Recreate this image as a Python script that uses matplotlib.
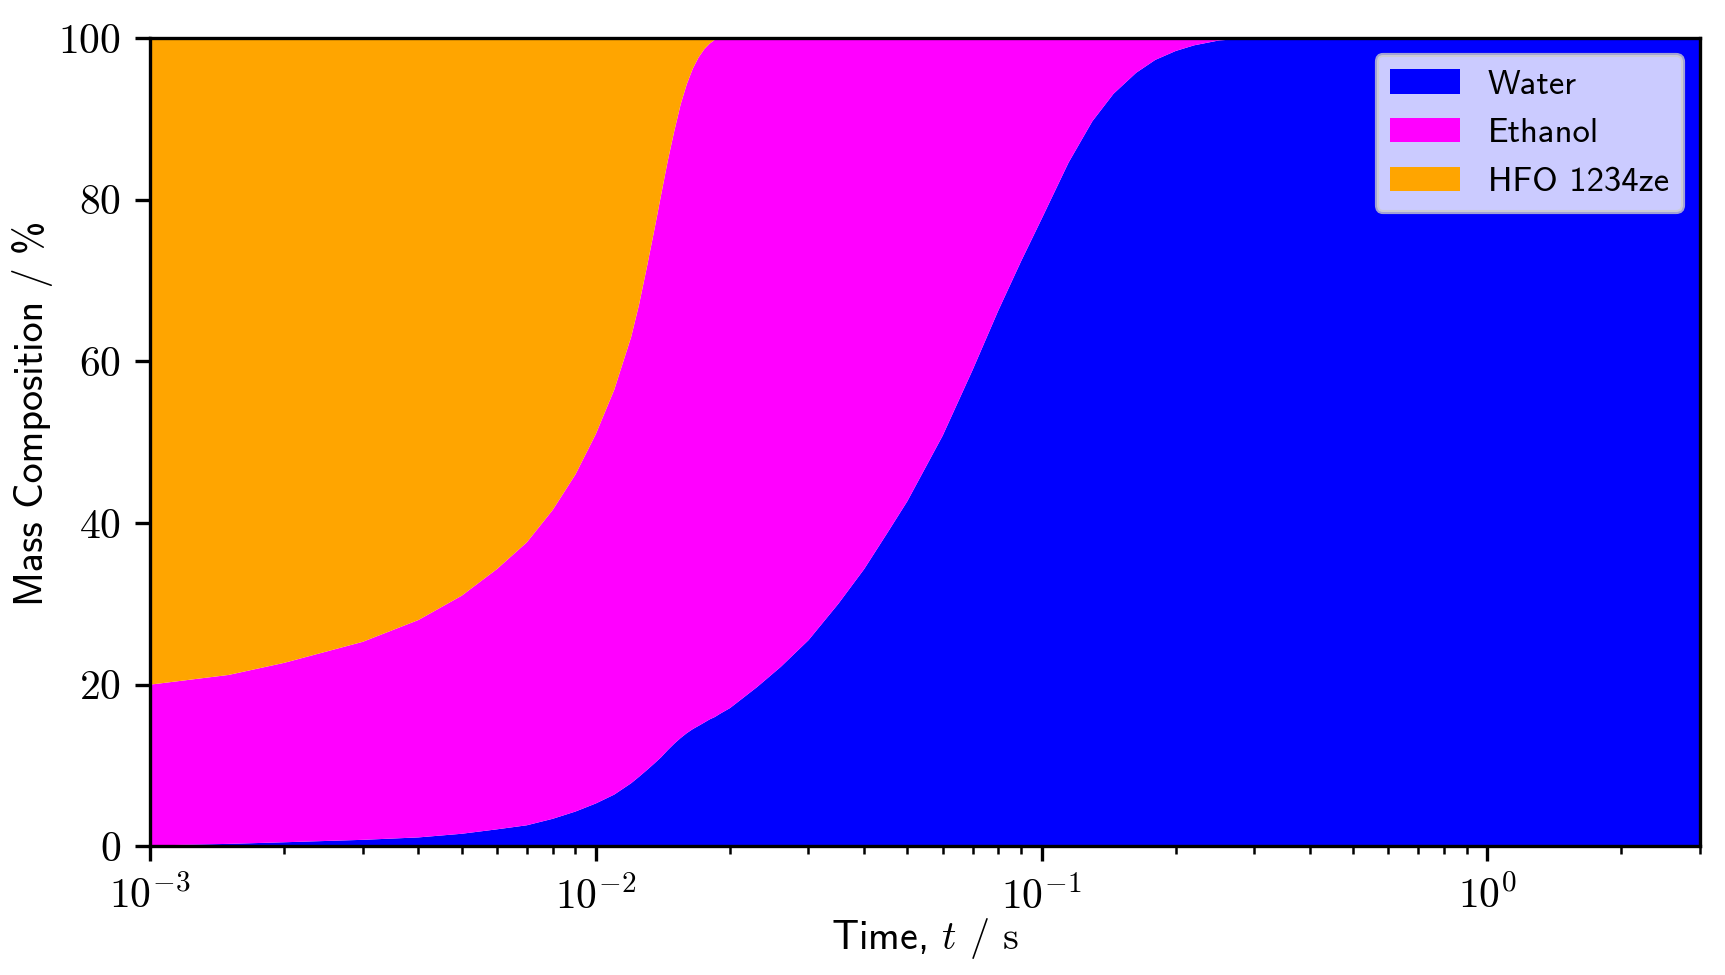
import numpy as np
import matplotlib
matplotlib.use("Agg")
import matplotlib.pyplot as plt

plt.rcParams['font.family'] = 'serif'
plt.rcParams['font.serif'] = ['cmr10', 'DejaVu Serif']
plt.rcParams['mathtext.fontset'] = 'cm'
plt.rcParams['axes.formatter.use_mathtext'] = True
plt.rcParams['font.size'] = 10

# time, s
time = [1e-3, 1.5e-3, 2e-3, 3e-3, 4e-3, 5e-3, 6e-3, 7e-3, 8e-3, 9e-3,
        0.010, 0.011, 0.012, 0.0125, 0.013, 0.0135, 0.014, 0.0145, 0.015, 0.0155,
        0.016, 0.0165, 0.017, 0.0175, 0.018, 0.0185, 0.019, 0.020, 0.023, 0.026,
        0.030, 0.035, 0.040, 0.045, 0.050, 0.060, 0.070, 0.080, 0.090, 0.100,
        0.115, 0.130, 0.145, 0.163, 0.180, 0.200, 0.220, 0.250, 0.300, 0.500,
        1.000, 3.000]

# mass composition, %
water = [0.1, 0.3, 0.5, 0.8, 1.1, 1.55, 2.1, 2.6, 3.4, 4.3,
         5.3, 6.4, 7.8, 8.6, 9.4, 10.2, 11.0, 11.9, 12.7, 13.4,
         14.0, 14.5, 14.9, 15.3, 15.7, 16.0, 16.4, 17.1, 19.7, 22.2,
         25.5, 30.0, 34.3, 38.7, 42.7, 50.8, 58.9, 66.3, 72.4, 77.6,
         84.6, 89.7, 93.1, 95.7, 97.3, 98.4, 99.1, 99.7, 100.0, 100.0,
         100.0, 100.0]
ethanol = [19.9, 20.9, 22.2, 24.5, 26.9, 29.45, 32.2, 35.0, 38.2, 41.7,
           45.7, 50.1, 55.2, 58.4, 62.1, 65.8, 69.5, 72.9, 75.8, 78.4,
           80.3, 81.7, 82.7, 83.3, 83.6, 83.8, 83.6, 82.9, 80.3, 77.8,
           74.5, 70.0, 65.7, 61.3, 57.3, 49.2, 41.1, 33.7, 27.6, 22.4,
           15.4, 10.3, 6.9, 4.3, 2.7, 1.6, 0.9, 0.3, 0.0, 0.0,
           0.0, 0.0]
hfo = [80.0, 78.8, 77.3, 74.7, 72.0, 69.0, 65.7, 62.4, 58.4, 54.0,
       49.0, 43.5, 37.0, 33.0, 28.5, 24.0, 19.5, 15.2, 11.5, 8.2,
       5.7, 3.8, 2.4, 1.4, 0.7, 0.2, 0.0, 0.0, 0.0, 0.0,
       0.0, 0.0, 0.0, 0.0, 0.0, 0.0, 0.0, 0.0, 0.0, 0.0,
       0.0, 0.0, 0.0, 0.0, 0.0, 0.0, 0.0, 0.0, 0.0, 0.0,
       0.0, 0.0]

labels = ['Water', 'Ethanol', 'HFO 1234ze']
colors = ['#0000ff', '#ff00ff', '#ffa500']

fig = plt.figure(figsize=(5.75, 3.25), dpi=300)
ax = fig.add_axes([0.087, 0.132, 0.8985, 0.829])

ax.stackplot(time, water, ethanol, hfo, labels=labels, colors=colors, linewidth=0)

ax.set_xscale('log')
ax.set_xlim(1e-3, 3)
ax.set_ylim(0, 100)
ax.set_xlabel(r'Time, $t$ $/$ $\mathrm{s}$', family='cmss10', fontsize=9.6, labelpad=0)
ax.set_ylabel('Mass Composition / %', family='cmss10', fontsize=9.6)
ax.yaxis.set_label_coords(-0.0625, 0.535)
ax.legend(loc='upper right', prop={'family': 'cmss10', 'size': 'small'})

fig.savefig('out.png', dpi=300)
